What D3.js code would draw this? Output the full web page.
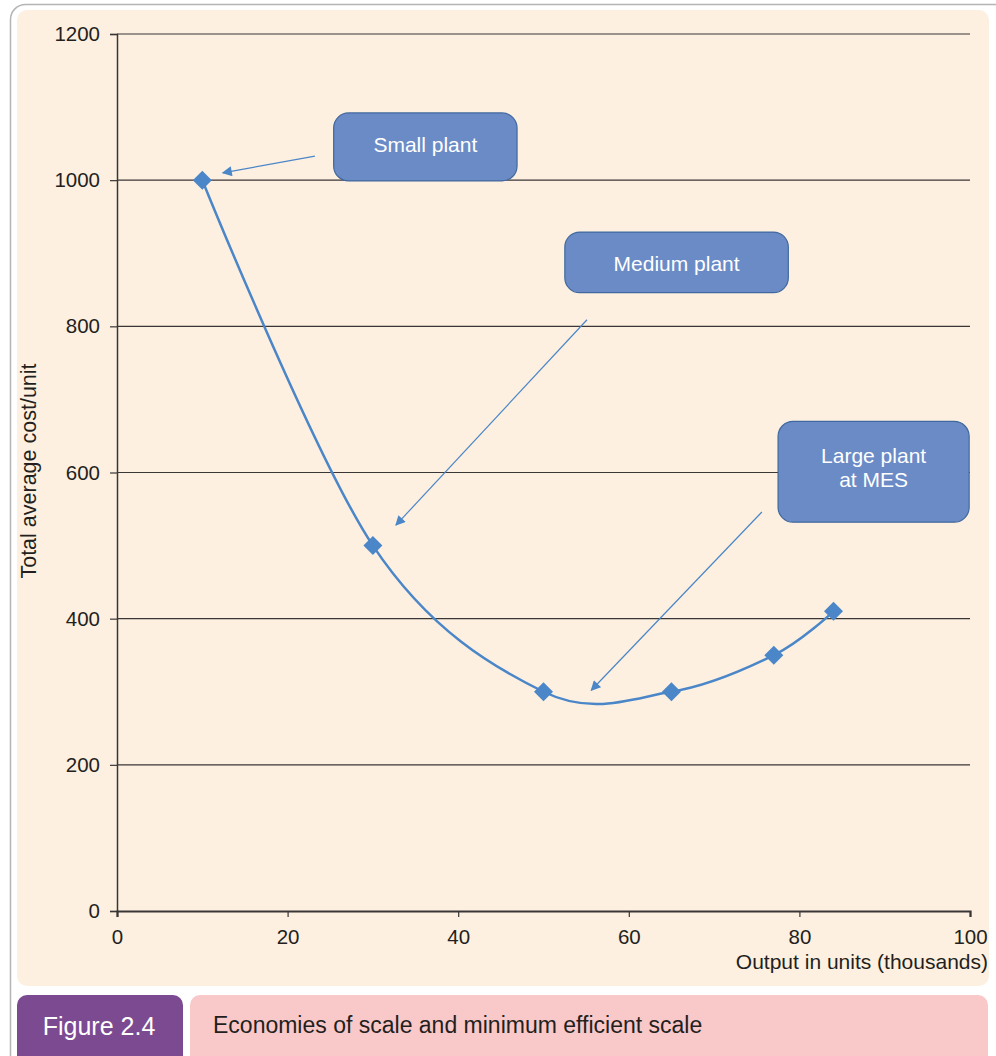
<!DOCTYPE html>
<html>
<head>
<meta charset="utf-8">
<script src="https://cdn.jsdelivr.net/npm/d3@7"></script>
<style>
  body { margin: 0; background: #fff; }
  svg { display: block; font-family: "Liberation Sans", Arial, sans-serif; }
</style>
</head>
<body>
<div id="chart"></div>
<script>
// Data
const outputs = [10, 30, 50, 65, 77, 84];
const costs = [1000, 500, 300, 300, 350, 410];
const xTicks = [0, 20, 40, 60, 80, 100];
const yTicks = [0, 200, 400, 600, 800, 1000, 1200];

// Callout boxes in data units: [x0, x1, yTop, yBottom]
const calloutLabels = [["Small plant"], ["Medium plant"], ["Large plant", "at MES"]];
const calloutBoxes = [[25.4, 46.9, 1092, 999], [52.5, 78.7, 929, 846], [77.5, 99.9, 670, 532]];
// Arrows in data units: [fromX, fromY, toX, toY]
const calloutArrows = [[23.2, 1033, 12.4, 1010], [55.1, 809, 32.7, 528], [75.6, 546, 55.6, 302]];

const width = 996, height = 1056;
const margin = { top: 34, right: 26, bottom: 145, left: 117 };
const innerWidth = width - margin.left - margin.right;
const innerHeight = height - margin.top - margin.bottom;

const svg = d3.select('#chart').append('svg')
  .attr('width', width).attr('height', height);

// Outer frame and panels
svg.append('rect')
  .attr('x', 10.5).attr('y', 4.5).attr('width', 1000).attr('height', 1070)
  .attr('rx', 15).attr('fill', '#fff').attr('stroke', '#b5b5b5').attr('stroke-width', 1.5);
svg.append('rect')
  .attr('x', 17).attr('y', 10).attr('width', 972).attr('height', 976)
  .attr('rx', 10).attr('fill', '#fdf0e1');
svg.append('rect')
  .attr('x', 17).attr('y', 995).attr('width', 166).attr('height', 80)
  .attr('rx', 10).attr('fill', '#7c4a90');
svg.append('rect')
  .attr('x', 190).attr('y', 995).attr('width', 798).attr('height', 80)
  .attr('rx', 10).attr('fill', '#f9c8c9');
svg.append('text')
  .attr('x', 99).attr('y', 1035).attr('text-anchor', 'middle')
  .attr('fill', '#fff').attr('font-size', 25)
  .text('Figure 2.4');
svg.append('text')
  .attr('x', 213).attr('y', 1033)
  .attr('fill', '#231f20').attr('font-size', 23)
  .text('Economies of scale and minimum efficient scale');

const g = svg.append('g')
  .attr('transform', `translate(${margin.left},${margin.top})`);

const x = d3.scaleLinear().domain([0, 100]).range([0, innerWidth]);
const y = d3.scaleLinear().domain([0, 1200]).range([innerHeight, 0]);

// Gridlines
g.append('g')
  .selectAll('line')
  .data(yTicks.slice(1))
  .join('line')
    .attr('x1', 0).attr('x2', innerWidth)
    .attr('y1', d => y(d)).attr('y2', d => y(d))
    .attr('stroke', '#3a3636').attr('stroke-width', 1.2);

// Axes
const yAxis = g.append('g')
  .call(d3.axisLeft(y).tickValues(yTicks).tickFormat(d3.format('d')).tickSize(7).tickPadding(10));
const xAxis = g.append('g')
  .attr('transform', `translate(0,${innerHeight})`)
  .call(d3.axisBottom(x).tickValues(xTicks).tickFormat(d3.format('d')).tickSize(6).tickPadding(12));

[yAxis, xAxis].forEach(ax => {
  ax.select('.domain').attr('stroke', '#3a3636').attr('stroke-width', 1.5);
  ax.selectAll('.tick line').attr('stroke', '#3a3636').attr('stroke-width', 1.2);
  ax.selectAll('.tick text')
    .attr('fill', '#231f20').attr('font-size', 20.5)
    .attr('font-family', '"Liberation Sans", Arial, sans-serif');
});
xAxis.select('.domain').attr('stroke-width', 2.2);

// Axis titles
svg.append('text')
  .attr('transform', 'translate(36,471) rotate(-90)')
  .attr('text-anchor', 'middle')
  .attr('fill', '#231f20').attr('font-size', 21.5)
  .text('Total average cost/unit');
svg.append('text')
  .attr('x', 988).attr('y', 969).attr('text-anchor', 'end')
  .attr('fill', '#231f20').attr('font-size', 21)
  .text('Output in units (thousands)');

// Cost curve
const points = outputs.map((o, i) => [o, costs[i]]);
const line = d3.line()
  .x(d => x(d[0]))
  .y(d => y(d[1]))
  .curve(d3.curveCardinal.tension(0));

g.append('path')
  .datum(points)
  .attr('d', line)
  .attr('fill', 'none')
  .attr('stroke', '#4a86c8')
  .attr('stroke-width', 2.5);

g.append('g')
  .selectAll('path')
  .data(points)
  .join('path')
    .attr('d', d3.symbol(d3.symbolSquare, 180))
    .attr('transform', d => `translate(${x(d[0])},${y(d[1])}) rotate(45)`)
    .attr('fill', '#4a86c8');

// Arrowhead
svg.append('defs').append('marker')
  .attr('id', 'arrow')
  .attr('viewBox', '0 0 10 10')
  .attr('refX', 9).attr('refY', 5)
  .attr('markerWidth', 12).attr('markerHeight', 10)
  .attr('markerUnits', 'userSpaceOnUse')
  .attr('orient', 'auto')
  .append('path')
    .attr('d', 'M0,0 L10,5 L0,10 Z')
    .attr('fill', '#4a86c8');

g.append('g')
  .selectAll('line')
  .data(calloutArrows)
  .join('line')
    .attr('x1', d => x(d[0])).attr('y1', d => y(d[1]))
    .attr('x2', d => x(d[2])).attr('y2', d => y(d[3]))
    .attr('stroke', '#4a86c8').attr('stroke-width', 1.2)
    .attr('marker-end', 'url(#arrow)');

// Callout boxes
const callouts = g.append('g')
  .selectAll('g')
  .data(calloutBoxes)
  .join('g');

callouts.append('rect')
  .attr('x', d => x(d[0]))
  .attr('y', d => y(d[2]))
  .attr('width', d => x(d[1]) - x(d[0]))
  .attr('height', d => y(d[3]) - y(d[2]))
  .attr('rx', 15)
  .attr('fill', '#6b8bc6')
  .attr('stroke', '#41689e')
  .attr('stroke-width', 1.2);

callouts.each(function(d, i) {
  const lines = calloutLabels[i];
  const cx = (x(d[0]) + x(d[1])) / 2;
  const top = y(d[2]);
  const t = d3.select(this).append('text')
    .attr('text-anchor', 'middle')
    .attr('fill', '#fff')
    .attr('font-size', 21);
  lines.forEach((s, j) => {
    t.append('tspan')
      .attr('x', cx)
      .attr('y', top + (lines.length > 1 ? 42 : 39) + j * 24)
      .text(s);
  });
});
</script>
</body>
</html>
